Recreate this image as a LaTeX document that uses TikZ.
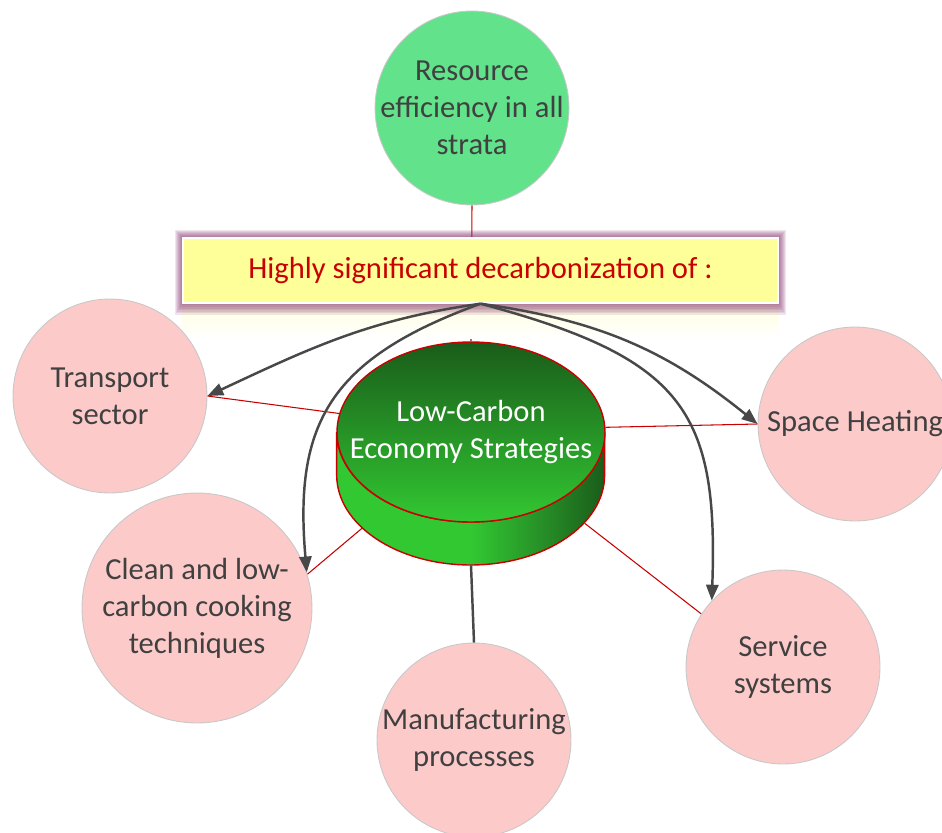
\documentclass[tikz,border=0pt]{standalone}
\usepackage{fontspec}
\setmainfont{Carlito}
\usetikzlibrary{shapes.geometric, arrows.meta, backgrounds}

\definecolor{sectorpink}{RGB}{253,202,202}
\definecolor{ringgray}{RGB}{200,200,200}
\definecolor{textgray}{RGB}{64,64,64}
\definecolor{resgreen}{RGB}{98,226,138}
\definecolor{linkred}{RGB}{200,0,0}
\definecolor{arcgray}{RGB}{72,72,72}
\definecolor{boxyellow}{RGB}{255,255,153}
\definecolor{boxglow}{RGB}{135,55,115}
\definecolor{cyldark}{RGB}{26,92,26}
\definecolor{cylmid}{RGB}{38,140,38}
\definecolor{cylbright}{RGB}{50,200,50}

\pgfdeclarehorizontalshading{cylside}{100bp}{color(0bp)=(cylbright); color(25bp)=(cylbright); color(50bp)=(cylbright); color(64bp)=(cylmid); color(75bp)=(cyldark); color(100bp)=(cyldark)}

\newcommand{\circfont}{\fontsize{17.4}{21}\selectfont}

\tikzstyle{sector} = [circle, draw=ringgray, line width=0.5pt, fill=sectorpink,
                      minimum size=3.88cm, inner sep=-10pt, align=center,
                      text=textgray, font=\circfont]
\tikzstyle{goal} = [sector, fill=resgreen]
\tikzstyle{banner} = [rectangle, draw=white, line width=0.8pt, fill=boxyellow,
                      minimum width=11.9cm, minimum height=1.3cm, inner sep=0pt,
                      text=linkred, font=\circfont]
\tikzstyle{disc} = [ellipse, minimum width=5.36cm, minimum height=3.6cm, inner sep=0pt]
\tikzstyle{redlink} = [draw=linkred, line width=0.6pt]
\tikzstyle{reach} = [draw=arcgray, line width=1.4pt, -{Triangle[length=9pt,width=7pt]}]

\begin{document}
\begin{tikzpicture}
    [x=0.02cm, y=0.02cm]
    \useasboundingbox (0,0) rectangle (942,-832);

    %% Sectors
    \node [goal] (resource) at (472,-108) {Resource\\efficiency in all\\strata};
    \node [sector] (transport) at (110,-396) {Transport\\sector};
    \node [sector] (heating) at (855,-424) {Space Heating};
    \node [sector, minimum size=4.6cm] (cooking) at (197,-608) {Clean and low-\\carbon cooking\\techniques};
    \node [sector] (manuf) at (474,-740) {Manufacturing\\processes};
    \node [sector] (service) at (783,-667) {Service\\systems};

    %% Cylinder
    \node [disc] (base) at (471,-475) {};
    \shadedraw [shading=cylside, draw=linkred, line width=0.8pt] (base.west)
        arc[start angle=180, end angle=360, x radius=2.68cm, y radius=1.8cm]
        -- ++(0,43)
        arc[start angle=0, end angle=-180, x radius=2.68cm, y radius=1.8cm] -- cycle;
    \node [disc, top color=cyldark, bottom color=cylbright, draw=linkred, line width=0.8pt] (core) at (471,-432) {};
    \node [text=white, align=center, font=\circfont] (corelabel) at (core) {Low-Carbon\\Economy Strategies};

    %% Banner
    \node [banner] (focus) at (480.5,-270.5) {Highly significant decarbonization of :};

    %% Red links and glow
    \begin{scope}[on background layer]
        \draw [redlink] (resource.south) -- (core.north);
        \draw [redlink] (transport.east) -- (core.172);
        \draw [redlink] (core.2) -- (heating.west);
        \draw [redlink] (cooking.17) -- (base.206);
        \draw [redlink] (service.147) -- (base.337);
        \shade [top color=boxyellow!30, bottom color=white] (focus.south west) rectangle ([yshift=-20]focus.south east);
        \foreach \g in {1,...,7}
            \fill [boxglow, opacity=0.13] ([shift={(-\g,\g)}]focus.north west) rectangle ([shift={(\g,-1.6*\g)}]focus.south east);
    \end{scope}

    %% Draw
    \draw [arcgray, line width=1.4pt] (base.south) -- (manuf.north);
    \draw [reach] (focus.south) to[out=188, in=25] (transport.east);
    \draw [reach] (focus.south) to[out=200, in=95, out distance=3.2cm, in distance=3cm] (cooking.18);
    \draw [reach] (focus.south) to[out=-8, in=141] (heating.west);
    \draw [reach] (focus.south) to[out=-15, in=88, out distance=4.2cm, in distance=3.8cm] (service.137);

\end{tikzpicture}
\end{document}
